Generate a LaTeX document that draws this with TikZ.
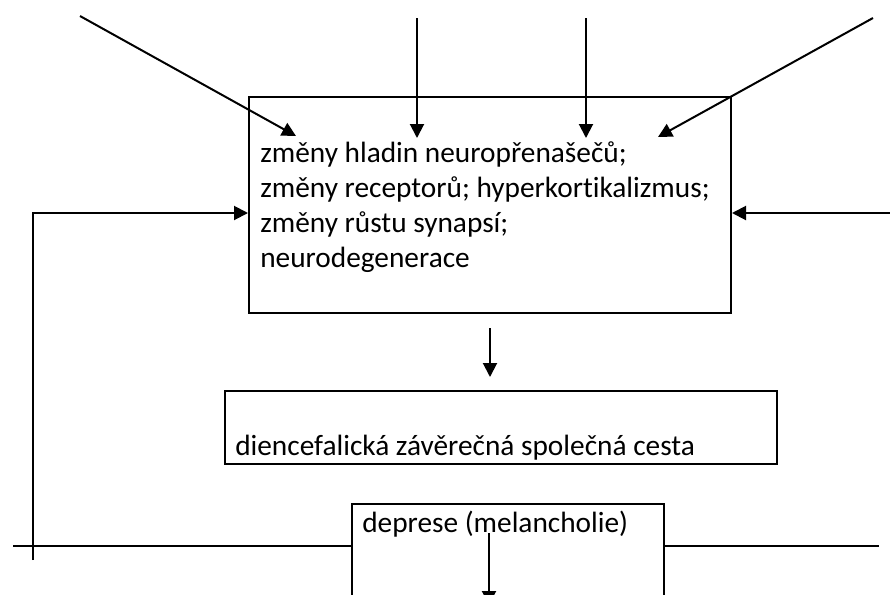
\documentclass[tikz,border=0pt]{standalone}
\usepackage{fontspec}
\setmainfont{Carlito}[Ligatures=CommonOff]
\usetikzlibrary{arrows.meta}

\tikzset{
  arr/.style={line width=1.5pt,-{Triangle[length=10.5pt,width=10.5pt]}},
  pole/.style={draw,line width=1.5pt,inner sep=0pt},
  popis/.style={inner sep=0pt,align=left,font=\fontsize{22}{26.25}\selectfont}
}

\begin{document}
\begin{tikzpicture}[x=0.75pt,y=0.75pt,yscale=-1,xscale=1]
	\clip (0,0) rectangle (890,594);

	% Boxes
	\node (neuro) [pole,minimum width=361.5pt,minimum height=162pt] at (490,205) {};
	\node (cesta) [pole,minimum width=414pt,minimum height=54.75pt] at (501,427.5) {};
	\node (deprese) [pole,minimum width=234pt,minimum height=109.5pt] at (508,577) {};
	% Text Node (base = last line)
	\node (neurotext) [popis,anchor=base west] at (260,267) {změny hladin neuropřenašečů;\\změny receptorů; hyperkortikalizmus;\\změny růstu synapsí;\\neurodegenerace};
	% Text Node
	\node (cestatext) [popis,anchor=base west] at (235,455) {diencefalická závěrečná společná cesta};
	% Text Node
	\node (depresetext) [popis,anchor=base west] at (362,532) {deprese (melancholie)};

	% free ends
	\coordinate (z1) at (80,16);   \coordinate (k1) at (296,136);
	\coordinate (z2) at (417,18);  \coordinate (k2) at (417,138);
	\coordinate (z3) at (586,18);  \coordinate (k3) at (586,138);
	\coordinate (z4) at (873,18);  \coordinate (k4) at (658,137);
	\coordinate (vpravo) at (890,213);
	\coordinate (zpet) at (33,560);
	\coordinate (roh) at (33,213);
	\coordinate (osaL) at (13,546);
	\coordinate (osaP) at (879,546);
	\coordinate (d1) at (490,328); \coordinate (d2) at (490,377);
	\coordinate (d3) at (489,533); \coordinate (d4) at (489,605);

	% Connection
	\draw [arr] (z1) -- (k1);
	\draw [arr] (z2) -- (k2);
	\draw [arr] (z3) -- (k3);
	\draw [arr] (z4) -- (k4);
	% Connection
	\draw [arr] (vpravo) -- (vpravo -| neuro.east);
	\draw [arr] (zpet) -- (roh) -- (roh -| neuro.west);
	% Connection
	\draw [arr] (d1) -- (d2);
	\draw [arr] (d3) -- (d4);
	% Connection
	\draw [line width=1.5pt] (osaL) -- (osaL -| deprese.west);
	\draw [line width=1.5pt] (deprese.east |- osaP) -- (osaP);

\end{tikzpicture}
\end{document}
